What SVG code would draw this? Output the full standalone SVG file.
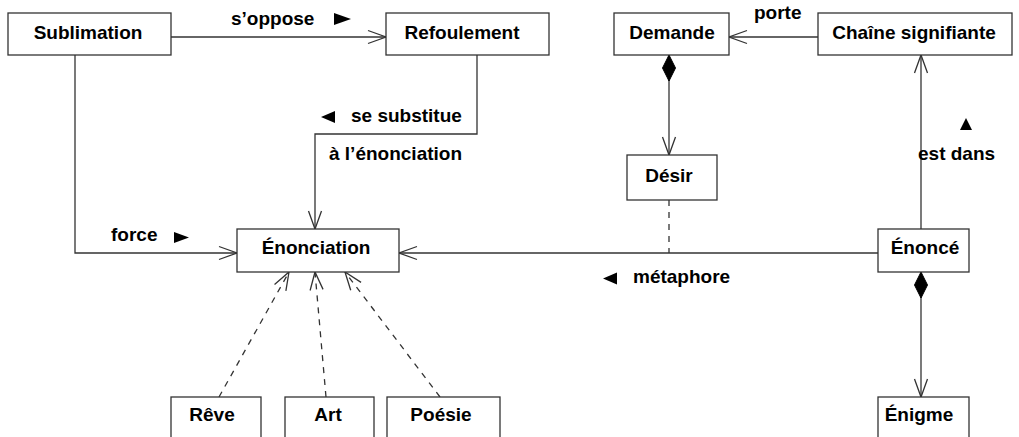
<svg xmlns="http://www.w3.org/2000/svg" width="1019" height="437" viewBox="0 0 1019 437">
<style>
.box{fill:#fff;stroke:#333;stroke-width:1.3}
.t{font-family:"Liberation Sans",Arial,sans-serif;font-weight:bold;font-size:19px;fill:#000}
.c{text-anchor:middle}
.ln{fill:none;stroke:#333;stroke-width:1.3}
.dash{stroke-dasharray:6,6}
.tri{fill:#000}
</style>
<defs>
<marker id="open" markerUnits="userSpaceOnUse" markerWidth="24" markerHeight="18" refX="0" refY="0" viewBox="-20 -9 24 18" orient="auto" overflow="visible">
<path d="M-18,-6.5 L0,0 L-18,6.5" fill="none" stroke="#333" stroke-width="1.3" stroke-dasharray="none"/>
</marker>
<marker id="diamond" markerUnits="userSpaceOnUse" markerWidth="30" markerHeight="16" refX="0" refY="0" viewBox="-2 -8 30 16" orient="auto" overflow="visible">
<path d="M0,0 L13,-6.5 L26,0 L13,6.5 Z" fill="#000" stroke="#000" stroke-width="1"/>
</marker>
</defs>
<rect width="1019" height="437" fill="#fff"/>
<g id="connectors">
<path class="ln" d="M171,37 H386" marker-end="url(#open)"/>
<path class="ln" d="M75,55 V253 H237" marker-end="url(#open)"/>
<path class="ln" d="M477,55 V134 H315 V229" marker-end="url(#open)"/>
<path class="ln" d="M818,37 H729" marker-end="url(#open)"/>
<path class="ln" d="M669,55 V155" marker-start="url(#diamond)" marker-end="url(#open)"/>
<path class="ln" d="M921,229 V55" marker-end="url(#open)"/>
<path class="ln" d="M878,253 H399" marker-end="url(#open)"/>
<path class="ln dash" d="M669,200 V253"/>
<path class="ln" d="M921,272 V397" marker-start="url(#diamond)" marker-end="url(#open)"/>
<path class="ln dash" d="M219,397 L289,272" marker-end="url(#open)"/>
<path class="ln dash" d="M326,397 L315,272" marker-end="url(#open)"/>
<path class="ln dash" d="M440,397 L345,272" marker-end="url(#open)"/>
<text class="t" x="231" y="25">s’oppose</text>
<polygon class="tri" points="334,13 351,19 334,25"/>
<polygon class="tri" points="335,111 321,117 335,123"/>
<text class="t" x="351" y="122">se substitue</text>
<text class="t" x="329" y="160">à l’énonciation</text>
<text class="t" x="111" y="241">force</text>
<polygon class="tri" points="174,232 189,237.5 174,243"/>
<text class="t" x="754" y="19">porte</text>
<polygon class="tri" points="966,118 972,130 960,130"/>
<text class="t" x="918" y="160">est dans</text>
<polygon class="tri" points="617,272.5 603,278.5 617,284.5"/>
<text class="t" x="633" y="283">métaphore</text>
</g>
<g id="sublimation"><rect class="box" x="8" y="13" width="163" height="42"/><text class="t c" x="88" y="39">Sublimation</text></g>
<g id="refoulement"><rect class="box" x="386" y="13" width="163" height="42"/><text class="t c" x="462" y="39">Refoulement</text></g>
<g id="demande"><rect class="box" x="614" y="13" width="115" height="42"/><text class="t c" x="672" y="39">Demande</text></g>
<g id="chaine"><rect class="box" x="818" y="13" width="194" height="42"/><text class="t c" x="914" y="39">Chaîne signifiante</text></g>
<g id="desir"><rect class="box" x="627" y="155" width="90" height="45"/><text class="t c" x="669" y="182">Désir</text></g>
<g id="enonciation"><rect class="box" x="237" y="229" width="162" height="43"/><text class="t c" x="316" y="254">Énonciation</text></g>
<g id="enonce"><rect class="box" x="878" y="229" width="91" height="43"/><text class="t c" x="925" y="254">Énoncé</text></g>
<g id="reve"><rect class="box" x="171" y="397" width="90" height="50"/><text class="t c" x="212" y="421">Rêve</text></g>
<g id="art"><rect class="box" x="285" y="397" width="89" height="50"/><text class="t c" x="328" y="421">Art</text></g>
<g id="poesie"><rect class="box" x="387" y="397" width="113" height="50"/><text class="t c" x="441" y="421">Poésie</text></g>
<g id="enigme"><rect class="box" x="878" y="397" width="91" height="50"/><text class="t c" x="919" y="421">Énigme</text></g>
</svg>
